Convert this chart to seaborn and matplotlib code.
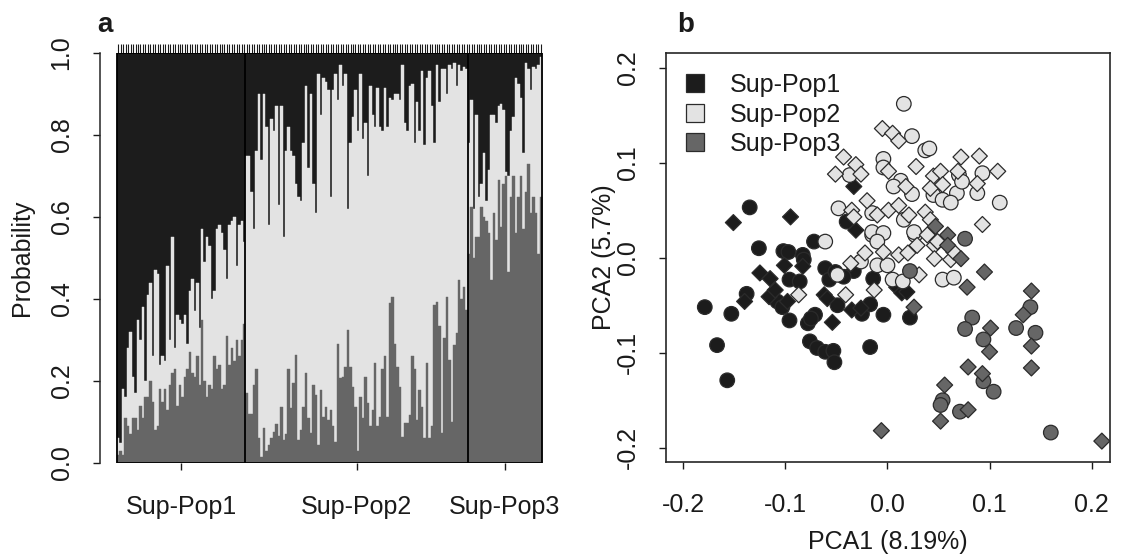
import numpy as np
import pandas as pd
import matplotlib
matplotlib.use("Agg")
import matplotlib.pyplot as plt
from matplotlib.lines import Line2D
from matplotlib.patches import Rectangle
from matplotlib.ticker import FixedLocator
import seaborn as sns

# =========================
# Data: panel a (membership per individual)
# q3  = share of Sup-Pop3 (bottom, dark grey)
# q23 = share of Sup-Pop3 + Sup-Pop2 (top of the light segment); rest is Sup-Pop1
# =========================
groups = ["Sup-Pop1", "Sup-Pop2", "Sup-Pop3"]

pop1_q3 = [0.02, 0.03, 0.02, 0.11, 0.09, 0.07, 0.11, 0.11, 0.08, 0.14,
           0.11, 0.16, 0.16, 0.20, 0.15, 0.08, 0.09, 0.18, 0.15, 0.18,
           0.13, 0.19, 0.22, 0.23, 0.14, 0.19, 0.16, 0.21, 0.23, 0.27,
           0.22, 0.21, 0.26, 0.19, 0.35, 0.20, 0.16, 0.19, 0.18, 0.26,
           0.23, 0.24, 0.18, 0.19, 0.31, 0.24, 0.28, 0.25, 0.30, 0.26,
           0.30, 0.34]
pop1_q23 = [0.06, 0.05, 0.18, 0.16, 0.28, 0.32, 0.21, 0.17, 0.35, 0.30,
            0.38, 0.20, 0.41, 0.44, 0.26, 0.47, 0.46, 0.24, 0.26, 0.25,
            0.48, 0.30, 0.55, 0.28, 0.36, 0.35, 0.34, 0.36, 0.29, 0.42,
            0.45, 0.37, 0.44, 0.33, 0.57, 0.49, 0.55, 0.53, 0.40, 0.42,
            0.57, 0.58, 0.56, 0.52, 0.45, 0.58, 0.59, 0.60, 0.48, 0.58,
            0.59, 0.54]

pop2_q3 = [0.17, 0.12, 0.12, 0.19,
           0.23, 0.06, 0.015, 0.085, 0.03, 0.045, 0.06, 0.075, 0.095, 0.065,
           0.137, 0.056, 0.07, 0.23, 0.133, 0.194, 0.263, 0.056, 0.08, 0.137,
           0.22, 0.109, 0.072, 0.19, 0.166, 0.044, 0.178, 0.113, 0.137,
           0.105, 0.13, 0.09, 0.052, 0.29, 0.207, 0.21, 0.235, 0.325, 0.235,
           0.186, 0.137, 0.03, 0.16, 0.109, 0.21, 0.146, 0.09, 0.13, 0.243,
           0.09, 0.113, 0.23, 0.26, 0.113, 0.39, 0.405, 0.29, 0.235,
           0.186, 0.064, 0.097, 0.097, 0.117, 0.26, 0.23, 0.105, 0.178, 0.137,
           0.06, 0.243, 0.06, 0.09, 0.385, 0.393, 0.333, 0.072, 0.304, 0.405,
           0.251, 0.10, 0.288, 0.316, 0.446, 0.40, 0.43, 0.373]
pop2_q23 = [0.75, 0.75, 0.66, 0.57,
            0.76, 0.90, 0.74, 0.90, 0.82, 0.58, 0.84, 0.81, 0.87, 0.63,
            0.87, 0.55, 0.76, 0.82, 0.76, 0.75, 0.68, 0.65, 0.64, 0.78,
            0.92, 0.72, 0.90, 0.68, 0.61, 0.95, 0.85, 0.94, 0.93,
            0.91, 0.65, 0.91, 0.95, 0.885, 0.97, 0.92, 0.95, 0.62, 0.78,
            0.845, 0.91, 0.81, 0.95, 0.79, 0.83, 0.70, 0.92, 0.85, 0.82,
            0.915, 0.82, 0.81, 0.915, 0.82, 0.89, 0.885, 0.90, 0.90,
            0.885, 0.97, 0.83, 0.81, 0.92, 0.925, 0.78, 0.88, 0.81, 0.955,
            0.775, 0.94, 0.955, 0.87, 0.78, 0.97, 0.88, 0.96, 0.96, 0.90,
            0.97, 0.96, 0.975, 0.92, 0.97, 0.955, 0.965, 0.96]

pop3_q3 = [0.51, 0.625, 0.50, 0.55, 0.55, 0.625, 0.60, 0.59, 0.56, 0.446,
           0.61, 0.544, 0.69, 0.576, 0.68, 0.70, 0.467, 0.65, 0.70, 0.56,
           0.65, 0.70, 0.57, 0.66, 0.73, 0.61, 0.65, 0.61, 0.51, 0.65]
pop3_q23 = [0.78, 0.885, 0.62, 0.85, 0.65, 0.68, 0.755, 0.64, 0.715, 0.85,
            0.85, 0.83, 0.87, 0.875, 0.86, 0.71, 0.70, 0.81, 0.845, 0.94,
            0.925, 0.89, 0.755, 0.975, 0.96, 0.91, 0.967, 0.96, 0.97, 0.99]

# =========================
# Data: panel b (PCA scores, circles = set A, diamonds = set B)
# =========================
pop1_circles = [(-0.179, -0.052), (-0.167, -0.092), (-0.157, -0.129), (-0.153, -0.059),
                (-0.138, -0.038), (-0.135, 0.053), (-0.126, 0.010), (-0.108, -0.046),
                (-0.103, -0.052), (-0.096, -0.066), (-0.102, 0.007), (-0.097, 0.006),
                (-0.096, -0.023), (-0.086, -0.025), (-0.083, 0.003), (-0.082, -0.002),
                (-0.072, 0.017), (-0.078, -0.069), (-0.071, -0.060), (-0.075, -0.064),
                (-0.076, -0.088), (-0.069, -0.095), (-0.061, -0.099), (-0.053, -0.098),
                (-0.052, -0.110), (-0.061, -0.011), (-0.057, -0.023), (-0.051, -0.015),
                (-0.049, -0.050), (-0.025, -0.059), (-0.017, -0.049), (-0.004, -0.060),
                (-0.017, -0.094), (-0.014, -0.022), (-0.033, -0.014), (0.022, -0.063),
                (-0.040, 0.038), (-0.043, -0.020)]
pop1_diamonds = [(-0.151, 0.037), (-0.095, 0.043), (-0.140, -0.046), (-0.125, -0.016),
                 (-0.115, -0.022), (-0.116, -0.041), (-0.110, -0.034), (-0.101, -0.008),
                 (-0.098, -0.046), (-0.083, -0.009), (-0.054, -0.068), (-0.062, -0.039),
                 (-0.059, -0.043), (-0.035, -0.055), (0.009, -0.031), (0.014, -0.037),
                 (0.019, -0.036), (-0.031, 0.029), (-0.033, 0.075), (-0.026, -0.053)]
pop2_circles = [(-0.061, 0.017), (-0.049, -0.018), (-0.026, -0.004), (-0.015, 0.024),
                (-0.010, -0.008), (0.005, -0.023), (0.027, 0.024), (0.054, -0.023),
                (0.016, 0.162), (0.024, 0.128), (0.037, 0.113), (0.041, 0.115),
                (-0.037, 0.087), (-0.004, 0.104), (-0.004, 0.095), (0.013, 0.081),
                (0.006, 0.075), (0.024, 0.067), (0.049, 0.075), (0.045, 0.066),
                (0.054, 0.061), (0.070, 0.087), (0.093, 0.089), (0.088, 0.068),
                (0.068, 0.068), (0.062, 0.058), (0.073, 0.080), (0.110, 0.058),
                (-0.048, 0.052), (-0.015, 0.047), (0.016, 0.040), (0.026, 0.027),
                (-0.015, 0.027), (-0.004, 0.026), (-0.010, 0.017), (0.000, -0.008),
                (0.015, -0.025), (0.065, -0.021)]
pop2_diamonds = [(-0.087, -0.039), (-0.041, -0.039), (-0.036, -0.006), (-0.022, 0.005),
                 (-0.004, 0.006), (-0.013, -0.034), (0.011, 0.003), (0.031, -0.018),
                 (0.029, 0.013), (0.039, 0.024), (0.046, 0.013), (0.046, -0.001),
                 (0.062, -0.002), (0.065, 0.006), (-0.005, 0.136), (0.005, 0.131),
                 (0.011, 0.123), (-0.043, 0.106), (-0.031, 0.098), (-0.051, 0.088),
                 (-0.026, 0.088), (0.001, 0.091), (0.028, 0.096), (0.018, 0.075),
                 (0.045, 0.086), (0.052, 0.091), (0.042, 0.073), (0.054, 0.077),
                 (0.072, 0.106), (0.090, 0.107), (0.069, 0.091), (0.108, 0.091),
                 (0.088, 0.078), (0.093, 0.035), (-0.035, 0.050), (-0.020, 0.060),
                 (-0.010, 0.045), (0.001, 0.050), (0.011, 0.055), (0.021, 0.045),
                 (0.037, 0.048), (0.042, 0.040), (-0.033, 0.043), (0.020, 0.005),
                 (0.049, 0.017)]
pop3_circles = [(0.022, -0.014), (0.076, 0.020), (0.140, -0.052), (0.083, -0.063),
                (0.076, -0.075), (0.094, -0.086), (0.126, -0.074), (0.145, -0.079),
                (0.094, -0.130), (0.104, -0.141), (0.054, -0.150), (0.052, -0.155),
                (0.071, -0.162), (0.160, -0.184)]
pop3_diamonds = [(0.026, -0.052), (0.059, 0.024), (0.059, 0.013), (0.095, -0.015),
                 (0.078, -0.031), (0.141, -0.035), (0.133, -0.060), (0.101, -0.074),
                 (0.100, -0.099), (0.141, -0.093), (0.141, -0.116), (0.079, -0.115),
                 (0.093, -0.122), (0.056, -0.134), (0.052, -0.172), (0.079, -0.160),
                 (-0.006, -0.182), (0.210, -0.193), (0.047, 0.033), (0.072, -0.001)]

pc1_label = "PCA1 (8.19%)"
pc2_label = "PCA2 (5.7%)"
x_ticks = [-0.2, -0.1, 0.0, 0.1, 0.2]
y_ticks = [-0.2, -0.1, 0.0, 0.1, 0.2]
p_ticks = [0.0, 0.2, 0.4, 0.6, 0.8, 1.0]

colors = {"Sup-Pop1": "#1c1c1c", "Sup-Pop2": "#e3e3e3", "Sup-Pop3": "#666666"}
edge = "#2b2b2b"

# =========================
# Style
# =========================
sns.set_style("ticks")
plt.rcParams["font.family"] = ["Liberation Sans", "DejaVu Sans"]
plt.rcParams["font.size"] = 18
plt.rcParams["axes.linewidth"] = 1.1
plt.rcParams["text.color"] = "#1a1a1a"
plt.rcParams["axes.labelcolor"] = "#1a1a1a"
plt.rcParams["xtick.color"] = "#1a1a1a"
plt.rcParams["ytick.color"] = "#1a1a1a"

fig = plt.figure(figsize=(11.3, 5.55), dpi=100)
W, H = 1130, 555
ax_a = fig.add_axes([100 / W, 92 / H, 459 / W, 410 / H])
ax_b = fig.add_axes([666 / W, 93 / H, 444 / W, 409 / H])

# =========================
# Panel a: stacked membership bars
# =========================
q3 = np.array(pop1_q3 + pop2_q3 + pop3_q3)
q23 = np.array(pop1_q23 + pop2_q23 + pop3_q23)
sizes = [len(pop1_q3), len(pop2_q3), len(pop3_q3)]
n = len(q3)
ind = np.arange(n)

layers = [(np.ones(n), colors["Sup-Pop1"]),
          (q23, colors["Sup-Pop2"]),
          (q3, colors["Sup-Pop3"])]
for heights, col in layers:
    sns.barplot(x=ind, y=heights, color=col, width=1.0, saturation=1,
                errorbar=None, edgecolor=col, linewidth=0.3, ax=ax_a)

bounds = np.cumsum(sizes)
centers = bounds - np.array(sizes) / 2 - 0.5
ext = 0.04 * n
ax_a.set_xlim(-0.5 - ext, n - 0.5 + ext)
ax_a.set_ylim(0, 1)
ax_a.add_patch(Rectangle((-0.5, 0), n, 1, fill=False, lw=1.3, ec="black", zorder=5))
ax_a.vlines(bounds[:-1] - 0.5, 0, 1, colors="black", lw=1.3, zorder=5)

ax_a.set_xticks(centers)
ax_a.set_xticklabels(groups)
ax_a.xaxis.set_minor_locator(FixedLocator(ind))
ax_a.tick_params(axis="x", which="minor", bottom=False, top=True,
                 direction="out", length=6.5, width=0.8)
ax_a.set_yticks(p_ticks)
ax_a.set_yticklabels([f"{v:.1f}" for v in p_ticks])
ax_a.tick_params(axis="both", which="major", direction="out", length=5, width=1,
                 labelsize=18, pad=14)
ax_a.tick_params(axis="x", which="major", pad=18)
for lab in ax_a.get_yticklabels():
    lab.set_rotation(90)
    lab.set_verticalalignment("center")
ax_a.spines[["top", "right", "bottom"]].set_visible(False)
ax_a.spines["left"].set_bounds(0, 1)
ax_a.set_xlabel("")
ax_a.set_ylabel("Probability", fontsize=18)
ax_a.yaxis.set_label_coords(-0.17, 0.5)
ax_a.yaxis.label.set_verticalalignment("center")

# =========================
# Panel b: PCA scatter
# =========================
rows = []
for grp, pts_c, pts_d in [("Sup-Pop1", pop1_circles, pop1_diamonds),
                          ("Sup-Pop2", pop2_circles, pop2_diamonds),
                          ("Sup-Pop3", pop3_circles, pop3_diamonds)]:
    for x, y in pts_c:
        rows.append((x, y, grp, "A"))
    for x, y in pts_d:
        rows.append((x, y, grp, "B"))
pca = pd.DataFrame(rows, columns=["pc1", "pc2", "group", "set"])

sns.scatterplot(data=pca, x="pc1", y="pc2", hue="group", style="set", size="set",
                palette=colors, markers={"A": "o", "B": "D"},
                sizes={"A": 110, "B": 66}, edgecolor=edge, linewidth=0.9,
                legend=False, ax=ax_b, zorder=3)

ax_b.set_xlim(-0.217, 0.218)
ax_b.set_ylim(-0.215, 0.2155)
ax_b.set_xticks(x_ticks)
ax_b.set_xticklabels([f"{v:.1f}" for v in x_ticks])
ax_b.set_yticks(y_ticks)
ax_b.set_yticklabels([f"{v:.1f}" for v in y_ticks])
ax_b.tick_params(axis="both", direction="out", length=5, width=1, labelsize=18, pad=14)
ax_b.tick_params(axis="x", pad=17)
for lab in ax_b.get_yticklabels():
    lab.set_rotation(90)
    lab.set_verticalalignment("center")
for s in ax_b.spines.values():
    s.set_visible(True)
    s.set_linewidth(1.2)
ax_b.set_xlabel(pc1_label, fontsize=18)
ax_b.set_ylabel(pc2_label, fontsize=18)
ax_b.xaxis.set_label_coords(0.5, -0.195)
ax_b.xaxis.label.set_verticalalignment("center")
ax_b.yaxis.set_label_coords(-0.14, 0.5)
ax_b.yaxis.label.set_verticalalignment("center")

handles = [Line2D([], [], marker="s", ls="", markersize=13, markerfacecolor=colors[g],
                  markeredgecolor=edge, markeredgewidth=0.9, label=g) for g in groups]
ax_b.legend(handles=handles, loc="upper left", bbox_to_anchor=(0.02, 0.975),
            frameon=False, fontsize=18, handlelength=0.8, handletextpad=1.0,
            labelspacing=0.22, borderaxespad=0)

# panel letters
fig.text(105 / W, 1 - 25 / H, "a", fontsize=20, fontweight="bold", ha="center", va="center")
fig.text(686 / W, 1 - 25 / H, "b", fontsize=20, fontweight="bold", ha="center", va="center")

fig.savefig("out.png", dpi=100)
